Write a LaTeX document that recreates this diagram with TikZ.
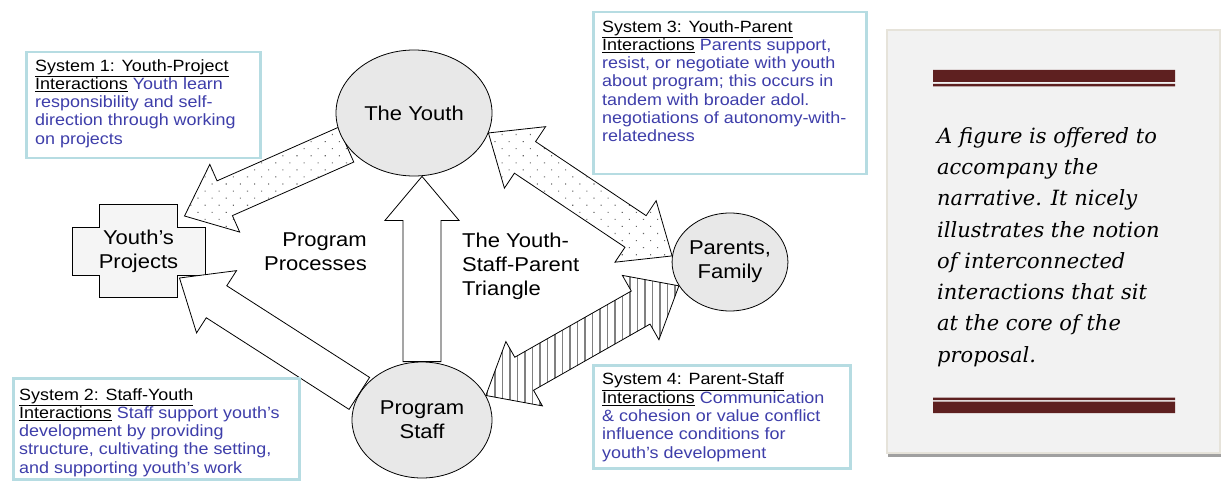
\documentclass[tikz,border=0pt]{standalone}
\usepackage{fontspec}
\setmainfont[FakeStretch=1.1]{Liberation Sans}
\newfontfamily\notefont{DejaVu Serif}
\usetikzlibrary{positioning,calc,shapes.geometric,patterns.meta}
\pgfdeclarelayer{background}
\pgfsetlayers{background,main}

\definecolor{sysblue}{RGB}{62,62,170}
\definecolor{boxline}{RGB}{182,220,226}
\definecolor{bubblegray}{RGB}{232,232,232}
\definecolor{crossgray}{RGB}{245,245,245}
\definecolor{panelbg}{RGB}{242,242,242}
\definecolor{panelrim}{RGB}{230,227,218}
\definecolor{panelshadow}{RGB}{160,160,160}
\definecolor{maroon}{RGB}{94,32,32}

% block arrows between two points
\newcommand{\shafthw}{19pt}
\newcommand{\headhw}{37pt}
\newcommand{\headlen}{44pt}
\newcommand{\systitle}[1]{\textcolor{black}{\underline{#1}}}

\newcommand{\blockarrow}[3][]{%
  \path (#2) coordinate (ba-s) (#3) coordinate (ba-e);
  \path ($(ba-e)!\headlen!(ba-s)$) coordinate (ba-h);
  \draw[arrowbody,#1] ($(ba-s)!\shafthw!90:(ba-e)$) -- ($(ba-h)!\shafthw!90:(ba-e)$)
    -- ($(ba-h)!\headhw!90:(ba-e)$) -- (ba-e) -- ($(ba-h)!\headhw!-90:(ba-e)$)
    -- ($(ba-h)!\shafthw!-90:(ba-e)$) -- ($(ba-s)!\shafthw!-90:(ba-e)$) -- cycle;}

\newcommand{\twowayarrow}[3][]{%
  \path (#2) coordinate (ba-s) (#3) coordinate (ba-e);
  \path ($(ba-e)!\headlen!(ba-s)$) coordinate (ba-h) ($(ba-s)!\headlen!(ba-e)$) coordinate (ba-t);
  \draw[arrowbody,#1] (ba-s) -- ($(ba-t)!\headhw!90:(ba-e)$) -- ($(ba-t)!\shafthw!90:(ba-e)$)
    -- ($(ba-h)!\shafthw!90:(ba-e)$) -- ($(ba-h)!\headhw!90:(ba-e)$) -- (ba-e)
    -- ($(ba-h)!\headhw!-90:(ba-e)$) -- ($(ba-h)!\shafthw!-90:(ba-e)$)
    -- ($(ba-t)!\shafthw!-90:(ba-e)$) -- ($(ba-t)!\headhw!-90:(ba-e)$) -- cycle;}

\begin{document}
\begin{tikzpicture}[x=1pt, y=-1pt,
  bubble/.style={ellipse, draw, line width=.8pt, fill=bubblegray, align=center, inner sep=0pt, font=\fontsize{20}{24}\selectfont},
  flowtext/.style={inner sep=0pt, font=\fontsize{20}{24}\selectfont},
  arrowbody/.style={draw, line width=.8pt, line join=miter},
  whitefill/.style={fill=white},
  dotfill/.style={preaction={fill=white}, pattern={Dots[distance=10pt, radius=.75pt, angle=45]}, pattern color=black!60},
  stripefill/.style={preaction={fill=white}, pattern={Lines[angle=90, distance=7.5pt, line width=1.6pt]}, pattern color=black!50},
  sysbox/.style={draw=boxline, line width=2.5pt, fill=white, anchor=north west, inner sep=0pt},
  systext/.style={anchor=north west, inner sep=0pt, align=left, text=sysblue, font=\fontsize{16.3}{18.3}\selectfont},
  note/.style={anchor=north west, inner sep=0pt, align=left, font=\notefont\itshape\fontsize{21}{31.3}\selectfont}]
\useasboundingbox (0,0) rectangle (1222,481);

% the three parties and the projects
\node[bubble, minimum width=156pt, minimum height=126pt] (youth) at (414,113) {The Youth};
\node[bubble, minimum width=140pt, minimum height=116pt] (staff) at (422,420) {Program\\Staff};
\node[bubble, minimum width=106pt, minimum height=98pt] (parents) at (730,262) {Parents,\\Family};
\node[flowtext, align=center] (projects) at (138.5,251) {Youth’s\\Projects};

\begin{pgfonlayer}{background}
\draw[fill=crossgray, line width=.8pt, shift={(projects.center)}] (-39,-46.5) -- (39,-46.5) -- (39,-24) -- (66.5,-24)
  -- (66.5,24) -- (39,24) -- (39,46.5) -- (-39,46.5) -- (-39,24) -- (-66.5,24) -- (-66.5,-24) -- (-39,-24) -- cycle;
\blockarrow[dotfill]{youth.205}{[shift={(46,-35)}]projects.center}
\blockarrow[whitefill]{staff.157}{[shift={(41,27)}]projects.center}
\blockarrow[whitefill]{staff.north}{staff.north |- youth.south}
\twowayarrow[dotfill]{youth.345}{parents.174}
\twowayarrow[stripefill]{staff.21}{parents.205}
\end{pgfonlayer}

\node[flowtext, align=right, anchor=north east] (processes) at (367,233) {Program\\Processes};
\node[flowtext, align=left, anchor=north west] (triangle) at (462,233) {The Youth-\\Staff-Parent\\Triangle};

% the four systems
\node[sysbox, minimum width=234pt, minimum height=106pt] (s1) at (25,51) {};
\node[systext] (s1txt) at ([shift={(10,8)}]s1.north west) {\systitle{System 1: Youth-Project}\\
  \systitle{Interactions} Youth learn\\responsibility and self-\\direction through working\\on projects};
\node[sysbox, minimum width=286pt, minimum height=101pt] (s2) at (12,377) {};
\node[systext] (s2txt) at ([shift={(7,11)}]s2.north west) {\systitle{System 2: Staff-Youth}\\
  \systitle{Interactions} Staff support youth’s\\development by providing\\structure, cultivating the setting,\\and supporting youth’s work};
\node[sysbox, minimum width=273pt, minimum height=162pt] (s3) at (592,11) {};
\node[systext] (s3txt) at ([shift={(10,9)}]s3.north west) {\systitle{System 3: Youth-Parent}\\
  \systitle{Interactions} Parents support,\\resist, or negotiate with youth\\about program; this occurs in\\tandem with broader adol.\\negotiations of autonomy-with-\\relatedness};
\node[sysbox, minimum width=257pt, minimum height=103pt] (s4) at (592,364) {};
\node[systext] (s4txt) at ([shift={(10,9)}]s4.north west) {\systitle{System 4: Parent-Staff}\\
  \systitle{Interactions} Communication\\\& cohesion or value conflict\\influence conditions for\\youth’s development};

% side panel
\fill[panelshadow] (888,452) rectangle (1221,457);
\draw[fill=panelbg, draw=panelrim, line width=1.2pt] (887,30) rectangle (1220,453);
\fill[maroon] (933,70) rectangle (1175,82) (933,84) rectangle (1175,86.5);
\fill[maroon] (933,397.5) rectangle (1175,400) (933,401.5) rectangle (1175,413);
\node[note] (remark) at (937,127) {A figure is offered to\\accompany the\\narrative. It nicely\\illustrates the notion\\of interconnected\\interactions that sit\\at the core of the\\proposal.};
\end{tikzpicture}
\end{document}
